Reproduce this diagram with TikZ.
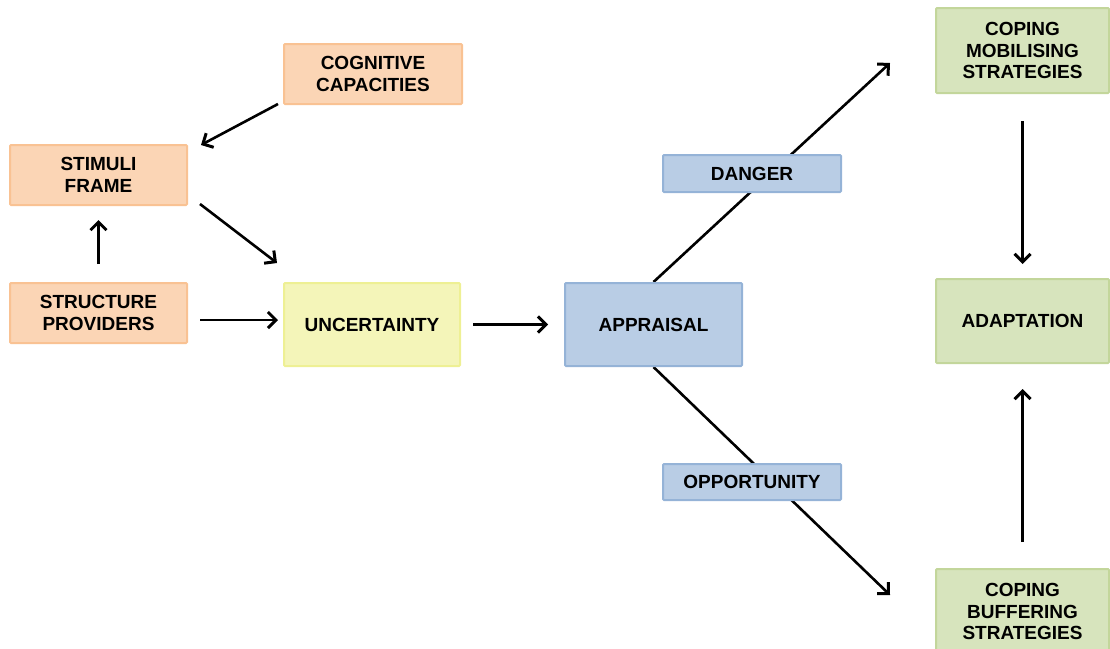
\documentclass[tikz,border=0pt]{standalone}
\usepackage{fontspec}
\setmainfont{Liberation Sans}
\usetikzlibrary{arrows.meta}
\pgfdeclarelayer{background}
\pgfsetlayers{background,main}

\definecolor{orfill}{HTML}{FBD5B5}
\definecolor{ordraw}{HTML}{F9C293}
\definecolor{yefill}{HTML}{F4F5B9}
\definecolor{yedraw}{HTML}{EEF094}
\definecolor{blfill}{HTML}{B9CDE5}
\definecolor{bldraw}{HTML}{95B3D7}
\definecolor{grfill}{HTML}{D7E4BD}
\definecolor{grdraw}{HTML}{C3D69B}

\tikzset{
  box/.style={draw, line width=2pt, rounded corners=1pt, inner sep=0pt,
    align=center, text=black, font=\bfseries\fontsize{19}{22.5}\selectfont},
  orbox/.style={box, fill=orfill, draw=ordraw},
  yebox/.style={box, fill=yefill, draw=yedraw},
  blbox/.style={box, fill=blfill, draw=bldraw},
  grbox/.style={box, fill=grfill, draw=grdraw, font=\bfseries\fontsize{19}{21.5}\selectfont},
  arr/.style={line width=2.6pt, -{Straight Barb[length=8pt,width=16pt,line width=3pt]}}
}

\begin{document}
\begin{tikzpicture}[x=1pt,y=-1pt]
\useasboundingbox (0,0) rectangle (1110,648);
\clip (0,0) rectangle (1110,648);

% left-hand inputs
\node[orbox, minimum width=177pt, minimum height=60pt] (stim) at (98.5,175) {STIMULI\\FRAME};
\node[orbox, minimum width=177pt, minimum height=60pt] (struct) at (98.5,313) {STRUCTURE\\PROVIDERS};
\node[orbox, minimum width=178pt, minimum height=60pt] (cog) at (373,74) {COGNITIVE\\CAPACITIES};

% central chain
\node[yebox, minimum width=176pt, minimum height=83pt] (unc) at (372,324.5) {UNCERTAINTY};
\node[blbox, minimum width=177pt, minimum height=83pt] (app) at (653.5,324.5) {APPRAISAL};
\node[blbox, minimum width=178pt, minimum height=37pt] (danger) at (752,173.5) {DANGER};
\node[blbox, minimum width=178pt, minimum height=36pt] (opp) at (752,482) {OPPORTUNITY};

% coping outcomes
\node[grbox, minimum width=173pt, minimum height=85pt] (mob) at (1022.5,50.5) {COPING\\MOBILISING\\STRATEGIES};
\node[grbox, minimum width=173pt, minimum height=84pt] (adapt) at (1022.5,321) {ADAPTATION};
\node[grbox, minimum width=173pt, minimum height=85pt] (buf) at (1022.5,611.5) {COPING\\BUFFERING\\STRATEGIES};

% free ends of the slanted connectors
\coordinate (cogtail) at (278,104);
\coordinate (stimtip) at (201,145);
\coordinate (stimtail) at (200,204);
\coordinate (unctip) at (277,263);
\coordinate (sptail) at (200,320);
\coordinate (sptip) at (278,320);
\coordinate (mobtip) at (890,63);
\coordinate (buftip) at (890,595);

\draw[arr] (cogtail) -- (stimtip);
\draw[arr, shorten <=18pt, shorten >=14pt] (struct) -- (stim);
\draw[arr] (stimtail) -- (unctip);
\draw[arr] (sptail) -- (sptip);
\draw[arr, shorten <=12pt, shorten >=16pt] (unc) -- (app);
\draw[arr, shorten <=27pt, shorten >=14pt] (mob) -- (adapt);
\draw[arr, shorten <=26pt, shorten >=25pt] (buf) -- (adapt);

% appraisal branches pass behind the DANGER / OPPORTUNITY labels
\begin{pgfonlayer}{background}
\draw[arr] (app.north) -- (mobtip);
\draw[arr] (app.south) -- (buftip);
\end{pgfonlayer}
\end{tikzpicture}
\end{document}
